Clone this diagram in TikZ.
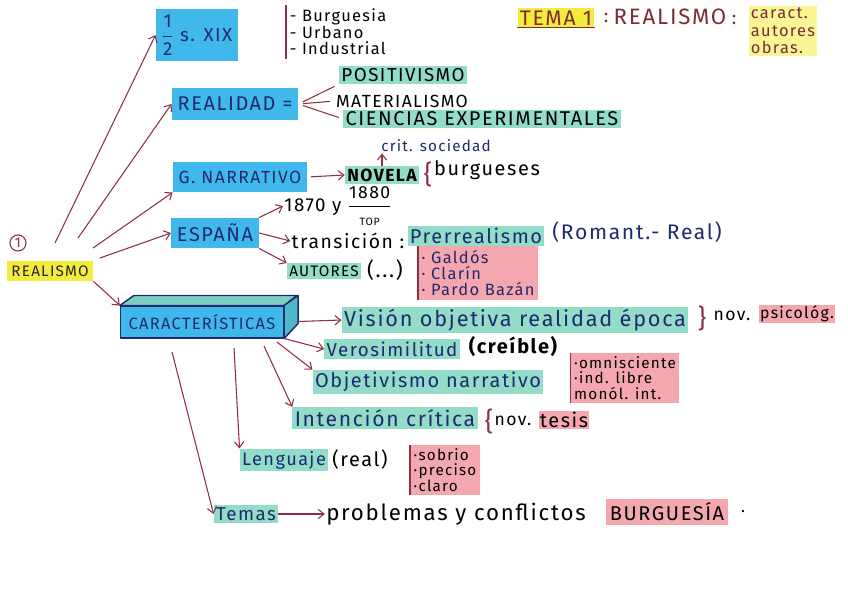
\documentclass[tikz,border=0pt]{standalone}
\usepackage{amsmath}
\usepackage{fontspec}
\setmainfont{Fira Sans}[LetterSpace=8]
\usetikzlibrary{arrows.meta}
\definecolor{hlblue}{HTML}{41B8EC}
\definecolor{hlmint}{HTML}{93DCC8}
\definecolor{hlpink}{HTML}{F4A7AE}
\definecolor{hlyellow}{HTML}{F4EC3C}
\definecolor{inkblue}{HTML}{1E2A6E}
\definecolor{markred}{HTML}{8E2F43}
\definecolor{titred}{HTML}{7B2C36}
\definecolor{boxtop}{HTML}{7DCFC0}
\definecolor{boxside}{HTML}{4FB8C8}
\newcommand{\fsz}[1]{\fontsize{#1}{#1}\selectfont}
\tikzset{
  bluebox/.style={fill=hlblue, text=inkblue, inner sep=5pt},
  mint/.style={fill=hlmint, text=inkblue, inner sep=2pt},
  pinkbox/.style={fill=hlpink, text=black, inner sep=3pt, align=left},
  plain/.style={text=black, inner sep=1pt},
  navy/.style={text=inkblue, inner sep=1pt},
  brace/.style={text=markred, inner sep=0pt, font=\fsz{22}},
  arr/.style={draw=markred, line width=0.9pt, -{Straight Barb[length=5pt,width=8pt]}},
  lnk/.style={draw=markred, line width=0.9pt},
  bar/.style={draw=markred, line width=1.4pt},
  boxline/.style={draw=inkblue, line width=1.2pt, line join=round},
}
\begin{document}
\begin{tikzpicture}[x=0.03cm, y=-0.03cm]
  \useasboundingbox[fill=white] (0,0) rectangle (848,588);

  \node[fill=hlyellow, text=titred, font=\fsz{18}, inner sep=2pt] (tema) at (556,18) {TEMA 1};
  \draw[titred, line width=1pt] (tema.south west) -- (tema.south east);
  \node[text=titred, font=\fsz{16}] (col1) at (606,18) {:};
  \node[text=titred, font=\fsz{19}] (tittxt) at (670,17) {REALISMO};
  \node[text=titred, font=\fsz{16}] (col2) at (734,20) {:};
  \node[fill=hlyellow!55, text=titred, font=\fontsize{14}{15}\selectfont, align=left, inner sep=2pt] (tlist) at (783,31) {caract.\\autores\\obras.};

  \node[draw=markred, circle, text=markred, line width=0.9pt, inner sep=1.5pt, font=\fsz{12}] (num) at (18,243) {1};
  \node[fill=hlyellow, text=black!85, font=\fsz{13}, inner sep=4pt] (real) at (50,271) {REALISMO};

  \node[bluebox, font=\fsz{16}, minimum height=34pt] (sxix) at (197,35) {$\dfrac{\text{1}}{\text{2}}$ s. XIX};
  \node[plain, align=left, font=\fontsize{14}{14}\selectfont, inner sep=3pt] (sxlist) at (338,32) {- Burguesia\\- Urbano\\- Industrial};
  \draw[bar] (sxlist.north west) -- (sxlist.south west);

  \node[bluebox, font=\fsz{17}, minimum height=27pt] (realidad) at (235,104) {REALIDAD =};
  \node[mint, text=black, font=\fsz{16}] (posit) at (403,75) {POSITIVISMO};
  \node[plain, font=\fsz{15}] (mater) at (402,101) {MATERIALISMO};
  \node[mint, text=black, font=\fsz{17}] (cienc) at (482,119) {CIENCIAS EXPERIMENTALES};
  \draw[lnk, shorten <=4pt, shorten >=4pt] (realidad.east) -- (posit.south west);
  \draw[lnk, shorten <=4pt, shorten >=4pt] (realidad.east) -- (mater.west);
  \draw[lnk, shorten <=4pt, shorten >=4pt] (realidad.east) -- (cienc.west);

  \node[bluebox, font=\fsz{15}, minimum height=26pt] (narr) at (240,177) {G. NARRATIVO};
  \node[mint, text=black, font=\bfseries\fsz{15}] (novela) at (382,175) {NOVELA};
  \node[navy, font=\fsz{13}] (crit) at (436,146) {crit. sociedad};
  \node[brace] (br1) at (428,174) {\{};
  \node[plain, font=\fsz{17}] (burg) at (487,170) {burgueses};
  \draw[arr, shorten <=3pt] (narr.east) -- (novela.west);
  \draw[arr] (novela.north) -- (novela.north |- crit.south);

  \node[bluebox, font=\fsz{17}, minimum height=26pt] (espana) at (215,233) {ESPAÑA};
  \node[plain, font=\fsz{16}] (years) at (338,206) {1870 y $\dfrac{\text{\fsz{15}1880}}{\text{\fsz{9}TOP}}$};
  \node[plain, font=\fsz{16.5}] (trans) at (348,241) {transición :};
  \node[mint, font=\fsz{17}] (prerr) at (476,236) {Prerrealismo};
  \node[navy, font=\fsz{18}] (roman) at (637,232) {(Romant.- Real)};
  \node[mint, text=black, font=\fsz{13}] (autores) at (324,271) {AUTORES};
  \node[plain, font=\fsz{18}] (etc) at (385,270) {(...)};
  \node[pinkbox, text=inkblue, font=\fontsize{14}{14}\selectfont] (autlist) at (478,273) {· Galdós\\· Clarín\\· Pardo Bazán};
  \draw[bar] (autlist.north west) -- (autlist.south west);
  \draw[arr] (espana.north east) -- (years.west);
  \draw[arr] (espana.east) -- (trans.west);
  \draw[arr] (espana.south east) -- (autores.north west);

  \node[bluebox, boxline, font=\fsz{14}, minimum width=139pt, minimum height=27pt] (carac) at (202,322) {CARACTERÍSTICAS};
  \draw[boxline, fill=boxtop] (carac.north west) -- ++(14,-10) -- ++(163,0) -- (carac.north east) -- cycle;
  \draw[boxline, fill=boxside] (carac.north east) -- ++(14,-10) -- ++(0,28) -- (carac.south east) -- cycle;

  \node[mint, font=\fsz{18.5}] (vision) at (515,320) {Visión objetiva realidad época};
  \node[brace] (br2) at (702,318) {\}};
  \node[plain, font=\fsz{15}] (nov1) at (732,316) {nov.};
  \node[plain, fill=hlpink, font=\fsz{13.5}] (psic) at (797,314) {psicológ.};
  \node[mint, font=\fsz{16}] (veros) at (392,349) {Verosimilitud};
  \node[plain, font=\bfseries\fsz{17}] (creib) at (513,347) {(creíble)};
  \node[mint, font=\fsz{17}] (objet) at (428,382) {Objetivismo narrativo};
  \node[pinkbox, font=\fontsize{13}{13}\selectfont] (narrlist) at (625,378) {·omnisciente\\·ind. libre\\monól. int.};
  \draw[bar] (narrlist.north west) -- (narrlist.south west);
  \node[mint, font=\fsz{18}] (inten) at (385,418) {Intención crítica};
  \node[brace] (br3) at (489,421) {\{};
  \node[plain, font=\fsz{15}] (nov2) at (513,421) {nov.};
  \node[plain, fill=hlpink, font=\fsz{17}] (tesis) at (564,420) {tesis};
  \node[mint, font=\fsz{15.5}] (lengu) at (284,460) {Lenguaje};
  \node[plain, font=\fsz{17}] (real2) at (360,460) {(real)};
  \node[pinkbox, font=\fontsize{13}{13}\selectfont] (lenglist) at (445,470) {·sobrio\\·preciso\\·claro};
  \draw[bar] (lenglist.north west) -- (lenglist.south west);
  \node[mint, font=\fsz{16}] (temas) at (246,514) {Temas};
  \node[plain, font=\fsz{19}] (probl) at (456,514) {problemas y conflictos};
  \node[plain, fill=hlpink, font=\fsz{17}, inner sep=3pt] (burgu) at (667,512) {BURGUESÍA};
  \node[plain, font=\fsz{14}] (fin) at (743,512) {.};

  \coordinate (tO) at (277,342);
  \coordinate (tI) at (264,346);
  \coordinate (tL) at (234,348);
  \coordinate (tT) at (172,352);
  \draw[arr, shorten <=12pt] (carac.east) -- (vision.west);
  \draw[arr] (carac.south east) -- (veros.west);
  \draw[arr] (tO) -- (objet.north west);
  \draw[arr] (tI) -- (inten.north west);
  \draw[arr] (tL) -- (lengu.north west);
  \draw[arr] (tT) -- (temas.west);
  \draw[arr] (temas.east) -- (probl.west);

  \coordinate (r1) at (55,243);
  \coordinate (r2) at (78,238);
  \coordinate (r3) at (93,248);
  \coordinate (r4) at (100,258);
  \draw[arr] (r1) -- (sxix.west);
  \draw[arr] (r2) -- (realidad.west);
  \draw[arr] (r3) -- (narr.south west);
  \draw[arr] (r4) -- (espana.west);
  \draw[arr] (real.south east) -- (carac.north west);
\end{tikzpicture}
\end{document}
